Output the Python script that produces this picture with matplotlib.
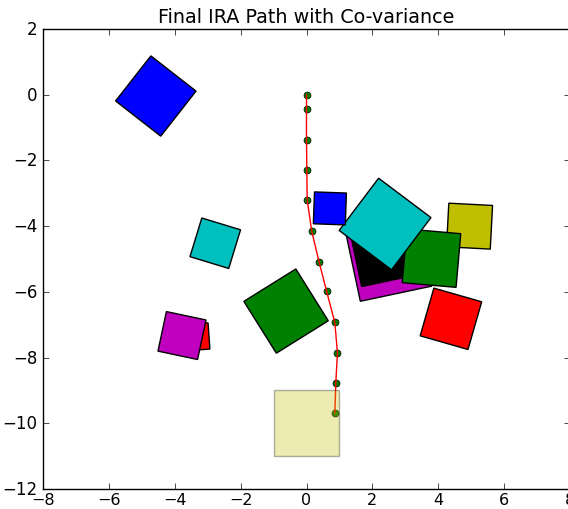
import numpy as np
import matplotlib
matplotlib.use("Agg")
import matplotlib.pyplot as plt
from matplotlib.patches import Polygon, Rectangle

plt.style.use("classic")

# Obstacles: rotated squares (centre, side length, rotation in degrees, colour)
obstacle_x = [2.49, 2.33, 4.95, 3.795, 2.385, 4.385, 0.71, -4.575, -2.77, -3.36, -3.78, -0.62]
obstacle_y = [-4.97, -4.83, -4.00, -4.975, -3.935, -6.82, -3.46, -0.04, -4.52, -7.37, -7.33, -6.585]
obstacle_side = [2.22, 1.70, 1.33, 1.64, 1.99, 1.51, 0.97, 1.74, 1.23, 0.80, 1.23, 1.86]
obstacle_angle = [12, 12, -3, -5, -37, -16, -2, -38, -17, 4, -12, 32]
obstacle_color = ["m", "k", "y", "g", "c", "r", "b", "b", "c", "r", "m", "g"]

# Planned path waypoints
path_x = [0.00, 0.00, 0.00, 0.01, 0.02, 0.16, 0.38, 0.61, 0.86, 0.94, 0.89, 0.86]
path_y = [0.00, -0.44, -1.37, -2.30, -3.20, -4.16, -5.08, -5.98, -6.93, -7.86, -8.76, -9.70]

# Goal region
goal_x, goal_y, goal_w, goal_h = -1.0, -11.0, 2.0, 2.0

fig = plt.figure(figsize=(5.68, 5.10), dpi=100)
ax = fig.add_axes([43 / 568, 20 / 510, 527 / 568, 460 / 510])


def square_corners(cx, cy, side, angle_deg):
    t = np.deg2rad(angle_deg)
    rot = np.array([[np.cos(t), -np.sin(t)], [np.sin(t), np.cos(t)]])
    h = side / 2.0
    base = np.array([[-h, -h], [h, -h], [h, h], [-h, h]])
    return base @ rot.T + np.array([cx, cy])


for i, (cx, cy, s, a, c) in enumerate(zip(obstacle_x, obstacle_y, obstacle_side,
                                            obstacle_angle, obstacle_color)):
    ax.add_patch(Polygon(square_corners(cx, cy, s, a), closed=True,
                         facecolor=c, edgecolor="k", linewidth=1.0, zorder=1 + i * 0.01))

ax.plot(path_x, path_y, "o", color=(0, 0.5, 0), markeredgecolor="k",
        markersize=5, zorder=3)
ax.plot(path_x, path_y, "r-", linewidth=1.0, zorder=3.1)

ax.add_patch(Rectangle((goal_x, goal_y), goal_w, goal_h, facecolor="y",
                       edgecolor="k", alpha=0.3, zorder=4))

ax.set_xlim(-8, 8)
ax.set_ylim(-12, 2)
ax.set_xticks(np.arange(-8, 9, 2))
ax.set_yticks(np.arange(-12, 3, 2))
ax.tick_params(axis="x", pad=2, labelsize=11.5)
ax.set_title("Final IRA Path with Co-variance", fontsize=13.8)

fig.savefig("out.png", dpi=100)
